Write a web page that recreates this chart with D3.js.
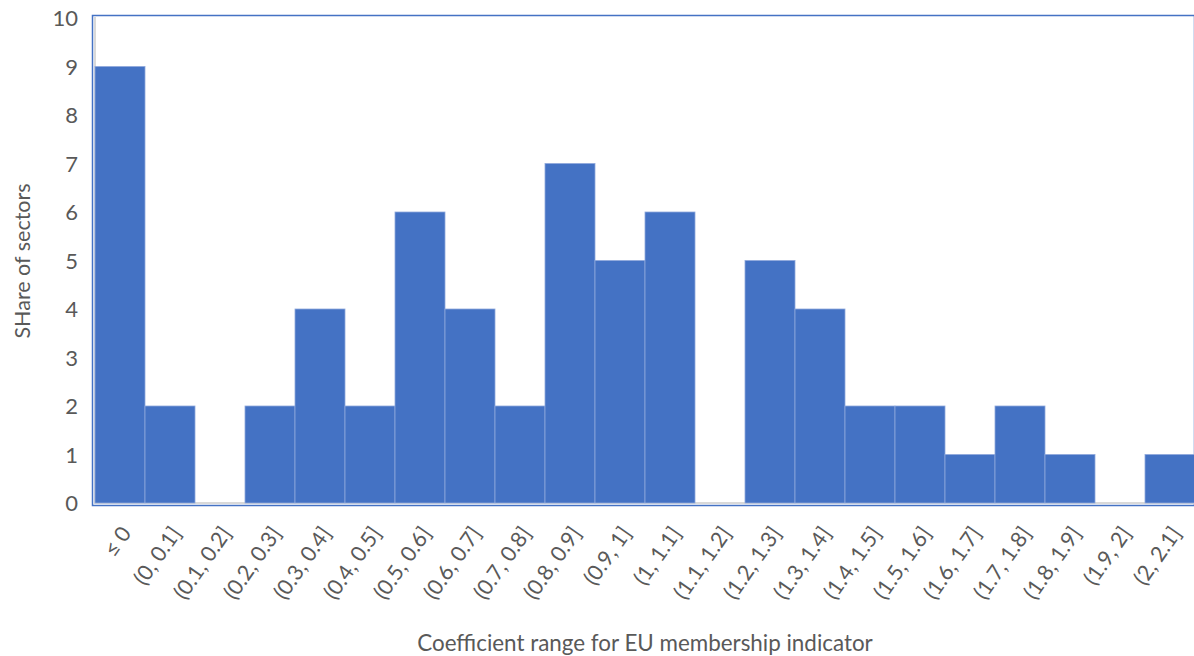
<!DOCTYPE html>
<html>
<head>
<meta charset="utf-8">
<script src="https://cdn.jsdelivr.net/npm/d3@7/dist/d3.min.js"></script>
<style>
  html, body { margin: 0; padding: 0; background: #fff; }
  svg { display: block; }
  text { font-family: Lato, "Open Sans", sans-serif; fill: #595959; }
</style>
</head>
<body>
<svg id="chart" width="1194" height="656"></svg>
<script>
// Histogram bins of the EU membership coefficient
const categories = ["≤ 0", "(0, 0.1]", "(0.1, 0.2]", "(0.2, 0.3]", "(0.3, 0.4]", "(0.4, 0.5]",
  "(0.5, 0.6]", "(0.6, 0.7]", "(0.7, 0.8]", "(0.8, 0.9]", "(0.9, 1]", "(1, 1.1]", "(1.1, 1.2]",
  "(1.2, 1.3]", "(1.3, 1.4]", "(1.4, 1.5]", "(1.5, 1.6]", "(1.6, 1.7]", "(1.7, 1.8]",
  "(1.8, 1.9]", "(1.9, 2]", "(2, 2.1]"];
const values = [9, 2, 0, 2, 4, 2, 6, 4, 2, 7, 5, 6, 0, 5, 4, 2, 2, 1, 2, 1, 0, 1];
const yTicks = [0, 1, 2, 3, 4, 5, 6, 7, 8, 9, 10];
const xTitle = "Coefficient range for EU membership indicator";
const yTitle = "SHare of sectors";

const svg = d3.select("#chart");
const plotLeft = 94, plotRight = 1194, plotTop = 18, plotBottom = 503;

const x = d3.scaleBand().domain(categories).range([plotLeft, plotRight]).padding(0);
const y = d3.scaleLinear().domain([0, 10]).range([plotBottom, plotTop]);

// Plot frame
svg.append("rect")
  .attr("x", 92.5).attr("y", 15.5)
  .attr("width", 1194 - 92).attr("height", 505 - 15)
  .attr("fill", "none").attr("stroke", "#4472C4").attr("stroke-width", 1.5);

// Inner axis lines
svg.append("line").attr("x1", 95).attr("x2", 95).attr("y1", 17).attr("y2", 503)
  .attr("stroke", "#d9d9d9").attr("stroke-width", 2);
svg.append("line").attr("x1", 94).attr("x2", 1194).attr("y1", 503).attr("y2", 503)
  .attr("stroke", "#d9d9d9").attr("stroke-width", 2);

// Bars
svg.append("g").selectAll("rect").data(values).join("rect")
  .attr("x", (d, i) => x(categories[i]) + 1)
  .attr("y", d => y(d))
  .attr("width", x.bandwidth())
  .attr("height", d => y(0) - y(d))
  .attr("fill", "#4472C4")
  .attr("stroke", "#8fa9dc")
  .attr("stroke-width", 0.8)
  .attr("display", d => d > 0 ? null : "none");

// Y axis labels
const yAxis = d3.axisLeft(y).tickValues(yTicks).tickSize(0).tickPadding(0);
const gy = svg.append("g").attr("transform", "translate(78,0)").call(yAxis);
gy.select(".domain").remove();
gy.selectAll("text").style("font-size", "22px").attr("fill", "#595959").attr("dy", "0.35em");

// X axis labels, rotated
const xAxis = d3.axisBottom(x).tickSize(0).tickPadding(0);
const gx = svg.append("g").attr("transform", `translate(0,${plotBottom})`).call(xAxis);
gx.select(".domain").remove();
gx.selectAll("text")
  .style("font-size", "21.5px").attr("fill", "#595959")
  .attr("text-anchor", "end")
  .attr("dy", "0.35em")
  .attr("transform", "translate(7,26) rotate(-55)")
  .attr("y", 0).attr("x", 0);

// Axis titles
svg.append("text")
  .attr("x", 645).attr("y", 651)
  .attr("text-anchor", "middle").style("font-size", "22.4px")
  .text(xTitle);
svg.append("text")
  .attr("transform", "translate(30,261) rotate(-90)")
  .attr("text-anchor", "middle").style("font-size", "21.5px")
  .text(yTitle);
</script>
</body>
</html>
